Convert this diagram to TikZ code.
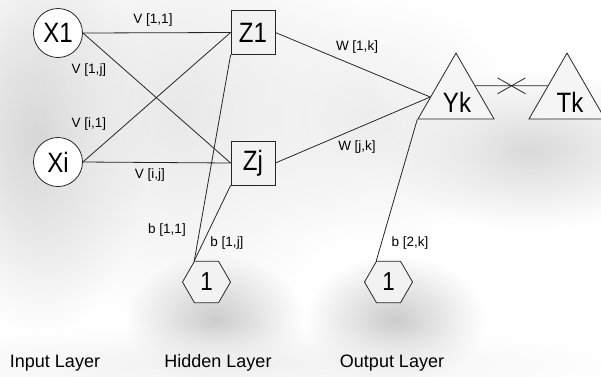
\documentclass[tikz,border=0pt]{standalone}
\usepackage{fontspec}
\setmainfont{Liberation Sans}
\usetikzlibrary{shapes.geometric,shapes.misc,fadings}
\tikzfading[name=softblob, inner color=transparent!0, outer color=transparent!100]
\newcommand{\nodetext}[1]{\scalebox{0.86}[1]{#1}}
\begin{document}
\begin{tikzpicture}[x=1pt,y=1pt,
  conn/.style={draw=black!85,line width=0.8pt},
  shp/.style={draw=black!85,line width=0.8pt,inner sep=0pt,font=\fontsize{28}{28}\selectfont},
  inp/.style={shp,circle,fill=white,minimum size=49pt},
  hid/.style={shp,rectangle,fill=black!5,minimum size=44pt},
  tri/.style={shp,regular polygon,regular polygon sides=3,fill=black!4,minimum size=87.8pt},
  hex/.style={shp,regular polygon,regular polygon sides=6,fill=black!5,minimum size=48pt,font=\fontsize{26}{26}\selectfont},
  wlab/.style={font=\fontsize{13.5}{13.5}\selectfont,inner sep=0pt},
  layer/.style={font=\fontsize{18}{18}\selectfont,inner sep=0pt},
  txt/.style={font=\fontsize{28}{28}\selectfont,inner sep=0pt},
  blob/.style={fill=black!18,path fading=softblob}]
\useasboundingbox (0,0) rectangle (601,-376);
% soft background shadow
\fill[blob] (40,-135) ellipse (110 and 200);
\fill[blob,fill=black!9] (180,-110) ellipse (200 and 220);
\fill[blob,fill=black!20] (215,-320) ellipse (90 and 65);
\fill[blob,fill=black!20] (395,-320) ellipse (90 and 65);
\fill[blob,fill=black!15] (530,-150) ellipse (160 and 80);
\fill[blob,fill=black!7] (370,-120) ellipse (150 and 130);
\fill[blob,fill=black!6] (240,-365) ellipse (400 and 40);
% nodes
\node[inp] (X1) at (58,-33) {\nodetext{X1}};
\node[inp] (Xi) at (58,-162) {\nodetext{Xi}};
\node[hid] (Z1) at (253,-32.5) {\nodetext{Z1}};
\node[hid] (Zj) at (253,-163) {\nodetext{Zj}};
\node[tri] (Yk) at (456,-97) {};
\node[tri] (Tk) at (567,-97) {};
\node[txt] (Yktxt) at (457,-102) {\nodetext{Yk}};
\node[txt] (Tktxt) at (570,-102) {\nodetext{Tk}};
\node[hex] (H1) at (206.5,-282) {\nodetext{1}};
\node[hex] (H2) at (388.5,-282) {\nodetext{1}};
% connectors
\draw[conn] (X1.east) -- (Z1.west);
\draw[conn] (X1.east) -- (Zj.west);
\draw[conn] (Xi.east) -- (Z1.west);
\draw[conn] (Xi.east) -- (Zj.west);
\draw[conn] (Z1.south west) -- (H1.corner 2);
\draw[conn] (Zj.south west) -- (H1.corner 2);
\draw[conn] (Z1.east) -- (Yk.west);
\draw[conn] (Zj.east) -- (Yk.west);
\draw[conn] (Yk.corner 2) -- (H2.corner 2);
\draw[conn] (Yk.side 3) -- node[cross out,draw=black!85,line width=0.8pt,minimum width=27pt,minimum height=15pt,inner sep=0pt] (cross) {} (Tk.side 1);
% weight labels
\node[wlab] (v11) at (153,-20) {V [1,1]};
\node[wlab] (v1j) at (89,-70) {V [1,j]};
\node[wlab] (vi1) at (89,-124) {V [i,1]};
\node[wlab] (vij) at (150,-175) {V [i,j]};
\node[wlab] (w1k) at (357,-47) {W [1,k]};
\node[wlab] (wjk) at (357,-147) {W [j,k]};
\node[wlab] (b11) at (167,-230) {b [1,1]};
\node[wlab] (b1j) at (227,-243) {b [1,j]};
\node[wlab] (b2k) at (410,-243) {b [2,k]};
% layer labels
\node[layer] (lin) at (55,-363) {Input Layer};
\node[layer] (lhid) at (218,-363) {Hidden Layer};
\node[layer] (lout) at (392,-363) {Output Layer};
\end{tikzpicture}
\end{document}
